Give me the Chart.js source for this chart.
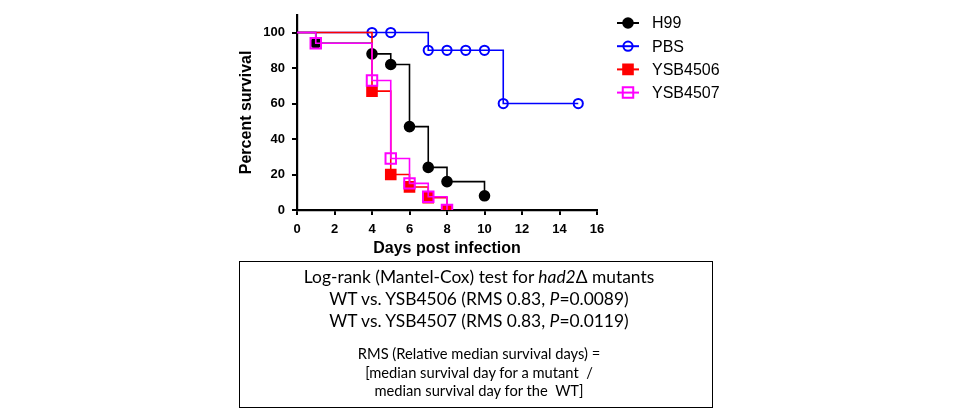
<!DOCTYPE html>
<html>
<head>
<meta charset="utf-8">
<script src="https://cdn.jsdelivr.net/npm/chart.js@4/dist/chart.umd.min.js"></script>
<style>
  body { margin: 0; background: #fff; }
  #wrap { position: relative; width: 960px; height: 415px; }
  #myCanvas { position: absolute; left: 0; top: 0; }
  #box {
    position: absolute; left: 239px; top: 261px; width: 474px; height: 147px;
    box-sizing: border-box; border: 1.5px solid #000; text-align: center;
    font-family: Lato, "Open Sans", sans-serif; color: #000;
  }
  #box .big { font-size: 17.4px; line-height: 22px; padding-left: 6px; }
  #box .small { font-size: 14.7px; line-height: 18.7px; padding-left: 6px; }
  #box .top { padding-top: 4px; }
  #box .gap { margin-top: 12px; }
</style>
</head>
<body>
<div id="wrap">
  <canvas id="myCanvas" width="960" height="262"></canvas>
  <div id="box">
    <div class="big top">Log-rank (Mantel-Cox) test for <i>had2</i>&Delta; mutants</div>
    <div class="big">WT vs. YSB4506 (RMS 0.83, <i>P</i>=0.0089)</div>
    <div class="big">WT vs. YSB4507 (RMS 0.83, <i>P</i>=0.0119)</div>
    <div class="small gap">RMS (Relative median survival days) =</div>
    <div class="small">[median survival day for a mutant &nbsp;/</div>
    <div class="small">median survival day for the &nbsp;WT]</div>
  </div>
</div>
<script>
// survival data (day, percent)
var h99Days = [0, 1, 4, 5, 6, 7, 8, 10];
var h99Surv = [100, 94, 88, 82, 47, 24, 16, 8];

var pbsDays = [0, 4, 5, 7, 8, 9, 10, 11, 15];
var pbsSurv = [100, 100, 100, 90, 90, 90, 90, 60, 60];

var ysb4506Days = [0, 4, 5, 6, 7, 8];
var ysb4506Surv = [100, 67, 20, 13, 7, 0];

var ysb4507Days = [0, 1, 4, 5, 6, 7, 8];
var ysb4507Surv = [100, 94, 73, 29, 15, 7.5, 0];

var seriesNames = ["H99", "PBS", "YSB4506", "YSB4507"];
var xTicks = [0, 2, 4, 6, 8, 10, 12, 14, 16];
var yTicks = [0, 20, 40, 60, 80, 100];

function toPoints(days, surv) {
  var pts = [];
  for (var i = 0; i < days.length; i++) {
    pts.push({x: days[i], y: surv[i]});
  }
  return pts;
}

// marker on every point except the starting one at day 0
function markerSize(r) {
  return function (c) { return c.dataIndex === 0 ? 0 : r; };
}

var styles = [
  {color: "#000000", pointStyle: "circle", fill: true, r: 4.8},
  {color: "#0000ff", pointStyle: "circle", fill: false, r: 4.6},
  {color: "#ff0000", pointStyle: "rect", fill: true, r: 6.8},
  {color: "#ff00ff", pointStyle: "rect", fill: false, r: 7.4}
];

var allData = [
  toPoints(h99Days, h99Surv),
  toPoints(pbsDays, pbsSurv),
  toPoints(ysb4506Days, ysb4506Surv),
  toPoints(ysb4507Days, ysb4507Surv)
];

var datasets = [];
for (var i = 0; i < seriesNames.length; i++) {
  var s = styles[i];
  datasets.push({
    label: seriesNames[i],
    data: allData[i],
    stepped: "before",
    borderColor: s.color,
    borderWidth: 1.6,
    backgroundColor: s.fill ? s.color : "rgba(0,0,0,0)",
    pointStyle: s.pointStyle,
    pointRadius: markerSize(s.r),
    pointBorderWidth: 2,
    pointBorderColor: s.color,
    pointBackgroundColor: s.fill ? s.color : "rgba(0,0,0,0)",
    order: seriesNames.length - 1 - i
  });
}

// legend drawn by hand: line with marker, like the Prism legend
var legendPlugin = {
  id: "prismLegend",
  afterDraw: function (chart) {
    var ctx = chart.ctx;
    ctx.save();
    for (var i = 0; i < seriesNames.length; i++) {
      var s = styles[i];
      var y = 23 + i * 23.2;
      ctx.strokeStyle = s.color;
      ctx.lineWidth = 2;
      ctx.beginPath();
      ctx.moveTo(617, y);
      ctx.lineTo(639, y);
      ctx.stroke();
      ctx.beginPath();
      if (s.pointStyle === "circle") {
        ctx.arc(628, y, s.r, 0, Math.PI * 2);
      } else {
        var h = s.r * Math.SQRT1_2;
        ctx.rect(628 - h, y - h, 2 * h, 2 * h);
      }
      if (s.fill) {
        ctx.fillStyle = s.color;
        ctx.fill();
      }
      ctx.stroke();
      ctx.fillStyle = "#000";
      ctx.font = "16px Arial, 'Liberation Sans'";
      ctx.textBaseline = "middle";
      ctx.textAlign = "left";
      ctx.fillText(seriesNames[i], 652, y + 1);
    }
    ctx.restore();
  }
};

var axisFont = {family: "Arial, 'Liberation Sans'", size: 13, weight: "bold"};
var titleFont = {family: "Arial, 'Liberation Sans'", size: 16, weight: "bold"};

new Chart(document.getElementById("myCanvas"), {
  type: "line",
  data: {datasets: datasets},
  options: {
    responsive: false,
    animation: false,
    layout: {padding: {left: 230, right: 363, top: 10, bottom: 0}},
    plugins: {legend: {display: false}, tooltip: {enabled: false}},
    scales: {
      x: {
        type: "linear",
        min: 0,
        max: 16,
        afterBuildTicks: function (axis) {
          axis.ticks = xTicks.map(function (v) { return {value: v}; });
        },
        afterFit: function (axis) { axis.height = 52; },
        ticks: {color: "#000", font: axisFont, padding: 7, maxRotation: 0},
        grid: {drawOnChartArea: false, drawTicks: true, tickLength: 5, color: "#000", lineWidth: 2},
        border: {display: true, color: "#000", width: 2.2},
        title: {display: true, text: "Days post infection", color: "#000", font: titleFont, padding: {top: 0, bottom: 4}}
      },
      y: {
        type: "linear",
        min: 0,
        max: 110,
        afterBuildTicks: function (axis) {
          axis.ticks = yTicks.map(function (v) { return {value: v}; });
        },
        afterFit: function (axis) { axis.width = 67; },
        ticks: {color: "#000", font: axisFont, padding: 7},
        grid: {drawOnChartArea: false, drawTicks: true, tickLength: 5, color: "#000", lineWidth: 2},
        border: {display: true, color: "#000", width: 2.2},
        title: {display: true, text: "Percent survival", color: "#000", font: titleFont, padding: {top: 7, bottom: 0}}
      }
    }
  },
  plugins: [legendPlugin]
});
</script>
</body>
</html>
